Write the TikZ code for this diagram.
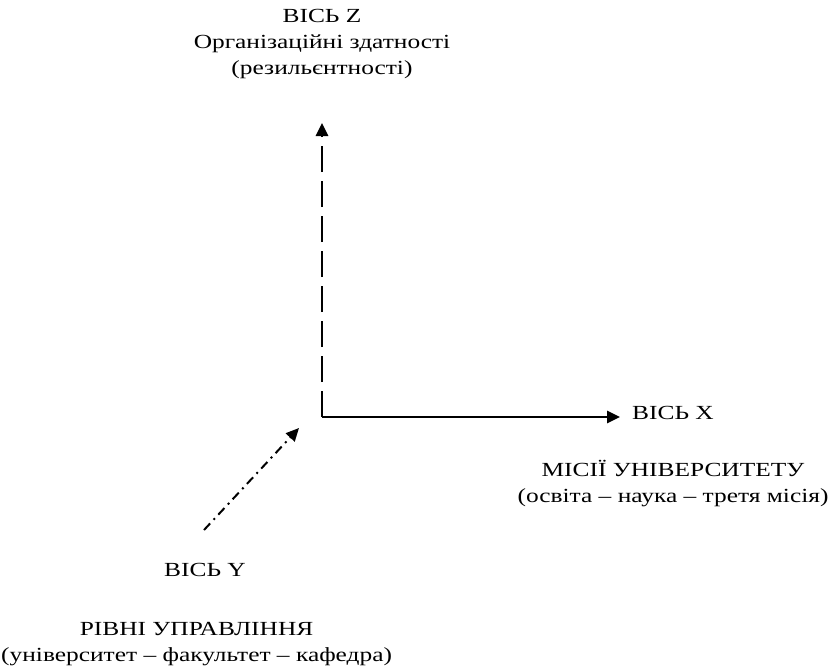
\documentclass[tikz,border=0pt]{standalone}
\usepackage{fontspec}
\setmainfont{Liberation Serif}[FakeStretch=1.27]
\usetikzlibrary{arrows.meta}

\tikzset{
	axislabel/.style = {font=\fontsize{20}{26}\selectfont, align=center, inner sep=0pt},
	axisline/.style  = {line width=2.6pt, -{Triangle[length=13pt,width=12pt]}},
}

\begin{document}
\begin{tikzpicture}[x=1pt, y=-1pt]
		\useasboundingbox (0,0) rectangle (833,670);
		% axes
		\coordinate (O)    at (322,417);
		\coordinate (zend) at (322,123);
		\coordinate (xend) at (620,417);
		\coordinate (ybeg) at (204,530);
		\coordinate (yend) at (299,428);
		\draw[axisline, dash pattern=on 26pt off 9pt] (O) -- (zend);
		\draw[axisline] (O) -- (xend);
		\draw[axisline, line width=2pt, dash pattern=on 9pt off 5pt on 2pt off 5pt] (ybeg) -- (yend);
		% labels
		\node[axislabel] (zlab) at (322,44) {ВІСЬ Z\\Організаційні здатності\\(резильєнтності)};
		\node[axislabel, anchor=west] (xlab) at (632,413) {ВІСЬ X};
		\node[axislabel] (xmis) at (673,484) {МІСІЇ УНІВЕРСИТЕТУ\\(освіта – наука – третя місія)};
		\node[axislabel] (ylab) at (205,570) {ВІСЬ Y};
		\node[axislabel, anchor=west] (ylev) at (1,644) {\hfill РІВНІ УПРАВЛІННЯ\hfill\null\\(університет – факультет – кафедра)};
	\end{tikzpicture}
\end{document}
